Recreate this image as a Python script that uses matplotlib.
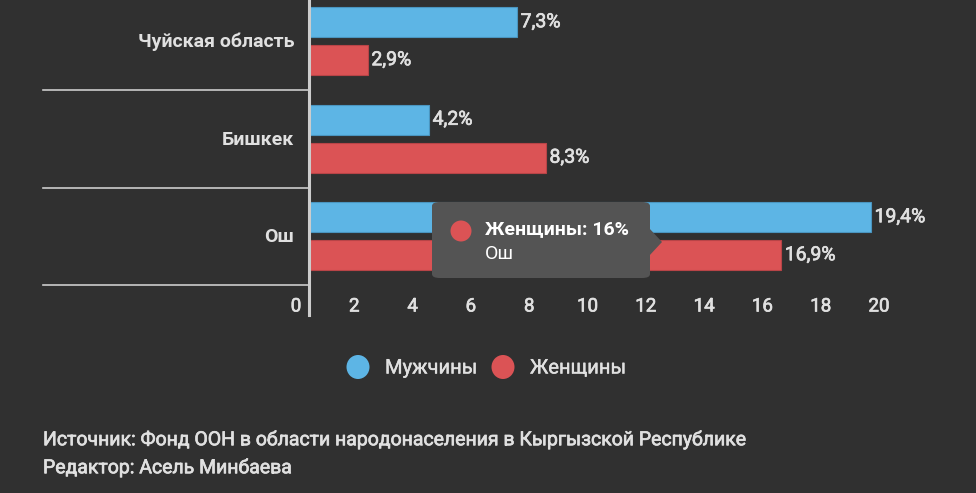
import matplotlib
matplotlib.use("Agg")
import matplotlib.pyplot as plt
import matplotlib.transforms as mtransforms
import matplotlib.patheffects as pe
from matplotlib.lines import Line2D
from matplotlib.patches import FancyBboxPatch, Polygon, Ellipse

plt.rcParams['font.family'] = ['Roboto', 'DejaVu Sans']

# данные
regions = ["Чуйская область", "Бишкек", "Ош"]
men = [7.14, 4.12, 19.28]
women = [2.02, 8.13, 16.2]
men_labels = ["7,3%", "4,2%", "19,4%"]
women_labels = ["2,9%", "8,3%", "16,9%"]
xticks = [0, 2, 4, 6, 8, 10, 12, 14, 16, 18, 20]
series_names = ["Мужчины", "Женщины"]
tooltip_title = "Женщины: 16%"
tooltip_cat = "Ош"
source = "Источник: Фонд ООН в области народонаселения в Кыргызской Республике"
editor = "Редактор: Асель Минбаева"

BG = "#303030"
BLUE = "#5db5e5"
RED = "#db5355"
TXT = "#e0e0e0"
LINE = "#cccccc"

# чуть толще обычного начертания (вместо Roboto Medium)
medium = [pe.withStroke(linewidth=0.5, foreground=TXT)]

W, H = 976, 493
fig = plt.figure(figsize=(W / 100, H / 100), dpi=100, facecolor=BG)


def fx(px):
    return px / W


def fy(py):
    return 1 - py / H


# оси: x 309..892 px, y 0..285 px
ax = fig.add_axes([fx(309), fy(285), fx(892) - fx(309), fy(0) - fy(285)])
ax.set_facecolor(BG)
band = 97.5
ax.set_xlim(0, 20)
ax.set_ylim(2.5, 2.5 - 285 / band)

off = 19 / band
h = 30 / band
ys = list(range(len(regions)))
ax.barh([y - off for y in ys], men, height=h, color=BLUE, edgecolor="#4a95c0", linewidth=0.8)
ax.barh([y + off for y in ys], women, height=h, color=RED, edgecolor="#b84447", linewidth=0.8)

for y, v, lab in zip(ys, men, men_labels):
    ax.text(v + 0.12, y - off, lab, color=TXT, fontsize=14,
            va="center", ha="left", path_effects=medium)
for y, v, lab in zip(ys, women, women_labels):
    ax.text(v + 0.12, y + off, lab, color=TXT, fontsize=14,
            va="center", ha="left", path_effects=medium)

for s in ax.spines.values():
    s.set_visible(False)
ax.set_yticks([])
ax.set_xticks(xticks)
ax.set_xticklabels([str(t) for t in xticks], color=TXT, fontsize=13.5)
ax.tick_params(axis="x", length=0, pad=9)
shift = mtransforms.ScaledTranslation(-13 / 100, 0, fig.dpi_scale_trans)
for lbl in ax.get_xticklabels():
    lbl.set_transform(lbl.get_transform() + shift)
    lbl.set_path_effects(medium)

# категории и разделители
bt = mtransforms.blended_transform_factory(fig.transFigure, ax.transData)
for y, name in zip(ys, regions):
    fig.text(fx(294), y + 0.01, name, color=TXT, fontsize=14, fontweight="bold",
             ha="right", va="center", transform=bt)
for y in [0.5, 1.5, 2.5]:
    fig.add_artist(Line2D([fx(43), fx(309)], [y, y], color=LINE, lw=1.2, transform=bt))
# ось
fig.add_artist(Line2D([fx(309), fx(309)], [fy(315), 1.0], color=LINE, lw=2.2,
                      transform=fig.transFigure))

# всплывающая подсказка
tip = FancyBboxPatch((fx(432), fy(278)), fx(650) - fx(432), fy(202) - fy(278),
                     boxstyle="round,pad=0,rounding_size=0.008", transform=fig.transFigure,
                     facecolor="#545454", edgecolor="none")
fig.add_artist(tip)
fig.add_artist(Polygon([(fx(649), fy(228)), (fx(662), fy(242)), (fx(649), fy(256))],
                       closed=True, transform=fig.transFigure, facecolor="#545454",
                       edgecolor="none"))
fig.add_artist(Ellipse((fx(461), fy(231)), fx(21), 21 / H, transform=fig.transFigure,
                       facecolor=RED, edgecolor="none"))
fig.text(fx(485), fy(229), tooltip_title, color="white", fontsize=14, fontweight="bold",
         ha="left", va="center")
fig.text(fx(485), fy(254), tooltip_cat, color="white", fontsize=14,
         ha="left", va="center")

# легенда
for cx, tx, name, col in [(358, 385, series_names[0], BLUE), (503, 530, series_names[1], RED)]:
    fig.add_artist(Ellipse((fx(cx), fy(367)), fx(23), 24 / H, transform=fig.transFigure,
                           facecolor=col, edgecolor="none"))
    fig.text(fx(tx), fy(368), name, color=TXT, fontsize=14.5, ha="left", va="center",
             path_effects=[pe.withStroke(linewidth=0.3, foreground=TXT)])

# подпись
fig.text(fx(43), fy(440), source, color=TXT, fontsize=14,
         ha="left", va="center", path_effects=medium)
fig.text(fx(43), fy(468), editor, color=TXT, fontsize=14,
         ha="left", va="center", path_effects=medium)

fig.savefig("out.png", dpi=100, facecolor=BG)
